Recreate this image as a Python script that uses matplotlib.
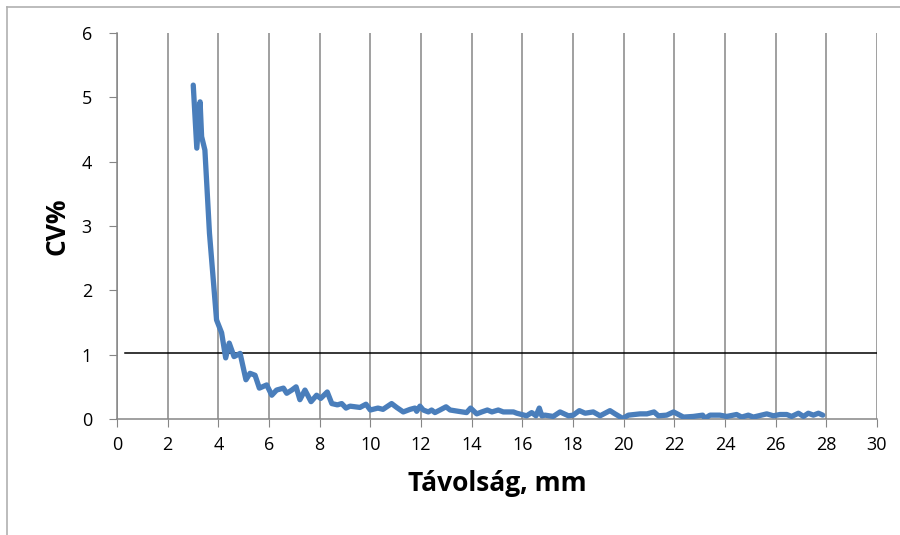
import numpy as np
import matplotlib.pyplot as plt
from matplotlib.lines import Line2D

plt.rcParams['font.family'] = ['Open Sans', 'DejaVu Sans']

# Távolság (mm)
tavolsag = [3.01, 3.15, 3.28, 3.34, 3.47, 3.65, 3.93, 4.13, 4.29, 4.43, 4.62, 4.86,
            5.09, 5.25, 5.45, 5.62, 5.91, 6.11, 6.30, 6.57, 6.70, 6.90, 7.07, 7.22,
            7.42, 7.66, 7.88, 8.04, 8.30, 8.48, 8.70, 8.87, 9.04, 9.20, 9.59, 9.83,
            10.0, 10.3, 10.5, 10.65, 10.84, 11.04, 11.3, 11.57, 11.76, 11.83, 11.96,
            12.09, 12.29, 12.42, 12.55, 12.75, 12.99, 13.15, 13.47, 13.8, 13.96,
            14.2, 14.4, 14.62, 14.8, 15.05, 15.25, 15.65, 15.78, 16.17, 16.37,
            16.54, 16.67, 16.77, 16.9, 17.22, 17.49, 17.82, 18.01, 18.25, 18.48,
            18.8, 19.07, 19.46, 19.66, 19.96, 20.19, 20.65, 20.92, 21.2, 21.37,
            21.7, 21.97, 22.36, 22.75, 23.12, 23.21, 23.41, 23.8, 24.07, 24.46,
            24.66, 24.92, 25.12, 25.65, 25.91, 26.17, 26.44, 26.63, 26.9, 27.1,
            27.29, 27.49, 27.69, 27.86]
# CV%
cv = [5.19, 4.21, 4.93, 4.39, 4.18, 2.89, 1.54, 1.34, 0.95, 1.18, 0.97, 1.02,
      0.61, 0.71, 0.68, 0.48, 0.53, 0.37, 0.45, 0.48, 0.40, 0.45, 0.50, 0.30,
      0.45, 0.27, 0.37, 0.32, 0.42, 0.24, 0.22, 0.24, 0.17, 0.20, 0.18, 0.23,
      0.14, 0.17, 0.15, 0.19, 0.24, 0.18, 0.11, 0.15, 0.17, 0.12, 0.20,
      0.14, 0.11, 0.14, 0.10, 0.14, 0.19, 0.14, 0.12, 0.10, 0.17,
      0.08, 0.11, 0.14, 0.11, 0.14, 0.11, 0.11, 0.09, 0.05, 0.10,
      0.05, 0.17, 0.05, 0.06, 0.04, 0.11, 0.05, 0.06, 0.13, 0.09,
      0.11, 0.05, 0.13, 0.08, 0.01, 0.06, 0.08, 0.08, 0.11, 0.05,
      0.06, 0.11, 0.03, 0.04, 0.06, 0.01, 0.06, 0.06, 0.04, 0.07,
      0.03, 0.06, 0.03, 0.08, 0.05, 0.07, 0.07, 0.04, 0.09, 0.04,
      0.09, 0.06, 0.09, 0.06]

# határérték vonal
hatar_x = [0.32, 30]
hatar_y = [1.03, 1.03]

fig = plt.figure(figsize=(9, 5.35), dpi=100)
ax = fig.add_axes([0.130, 0.2168, 0.8444, 0.7215])

ax.plot(tavolsag, cv, color='#4a7ebb', linewidth=3.8, solid_joinstyle='round',
        solid_capstyle='round', zorder=3)
ax.plot(hatar_x, hatar_y, color='black', linewidth=1.1, zorder=2)

ax.set_xlim(0, 30)
ax.set_ylim(0, 6)
ax.set_xticks(np.arange(0, 31, 2))
ax.set_yticks(np.arange(0, 7, 1))
ax.grid(axis='x', color='#868686', linewidth=1.1)
ax.set_axisbelow(True)

for s in ['top', 'right']:
    ax.spines[s].set_visible(False)
for s in ['left', 'bottom']:
    ax.spines[s].set_color('#868686')
    ax.spines[s].set_linewidth(1.1)

ax.tick_params(axis='both', direction='out', length=6, color='#868686',
               labelsize=13, pad=6)
ax.tick_params(axis='y', pad=12)
ax.set_xlabel('Távolság, mm', fontsize=19, fontweight='bold', labelpad=12)
ax.set_ylabel('CV%', fontsize=19, fontweight='bold', labelpad=8)

# keret
fig.add_artist(Line2D([7/900, 7/900], [0, 1 - 7/535], color='#b0b0b0', linewidth=1.2))
fig.add_artist(Line2D([7/900, 1], [1 - 7/535, 1 - 7/535], color='#b0b0b0', linewidth=1.2))

fig.savefig('out.png', dpi=100)
